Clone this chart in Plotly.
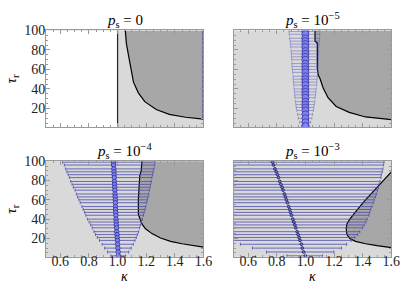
import plotly.graph_objects as go

# ---------------- data ----------------
KAPPA_RANGE = [0.5, 1.6]
TAU_RANGE = [1, 100]
x_tickvals = [0.6, 0.8, 1.0, 1.2, 1.4, 1.6]
x_ticktext = ["0.6", "0.8", "1.0", "1.2", "1.4", "1.6"]
y_tickvals = [20, 40, 60, 80, 100]
y_ticktext = ["20", "40", "60", "80", "100"]
titles = ["<i>p</i><sub>s</sub> = 0", "<i>p</i><sub>s</sub> = 10<sup>−5</sup>",
          "<i>p</i><sub>s</sub> = 10<sup>−4</sup>", "<i>p</i><sub>s</sub> = 10<sup>−3</sup>"]

tau = [99, 96, 92, 89, 86, 83, 79, 76, 73, 70, 66, 63, 60, 57, 53, 50, 47, 44, 40, 37,
       34, 31, 27, 24, 21, 18, 14, 10, 6, 2]

# p_s = 1e-5
p2_center = [0.999, 1.000, 0.999, 1.000, 1.000, 0.999, 1.000, 1.000, 0.999, 1.000,
             1.000, 0.999, 1.000, 1.000, 1.000, 0.999, 1.000, 1.000, 1.000, 0.999,
             1.000, 1.000, 1.000, 0.999, 1.000, 1.000, 1.000, 1.000, 1.000, 1.000]
p2_left = [0.885, 0.887, 0.889, 0.893, 0.895, 0.898, 0.900, 0.902, 0.903, 0.904,
           0.905, 0.907, 0.909, 0.911, 0.914, 0.915, 0.917, 0.919, 0.921, 0.923,
           0.925, 0.927, 0.930, 0.933, 0.936, 0.940, 0.945, 0.951, 0.960, 0.972]
p2_right = [1.101, 1.100, 1.099, 1.097, 1.096, 1.094, 1.093, 1.092, 1.091, 1.090,
            1.090, 1.089, 1.088, 1.086, 1.084, 1.082, 1.080, 1.078, 1.075, 1.073,
            1.071, 1.068, 1.065, 1.062, 1.058, 1.055, 1.050, 1.045, 1.036, 1.028]

# p_s = 1e-4
p3_center = [0.971, 0.972, 0.974, 0.975, 0.976, 0.977, 0.978, 0.979, 0.980, 0.981,
             0.982, 0.983, 0.984, 0.985, 0.985, 0.986, 0.987, 0.988, 0.989, 0.990,
             0.991, 0.993, 0.994, 0.996, 0.997, 0.999, 1.000, 1.002, 1.004, 1.006]
p3_left = [0.616, 0.628, 0.637, 0.646, 0.655, 0.664, 0.673, 0.682, 0.691, 0.703,
           0.712, 0.721, 0.730, 0.739, 0.751, 0.760, 0.769, 0.778, 0.789, 0.801,
           0.812, 0.823, 0.835, 0.846, 0.858, 0.874, 0.892, 0.910, 0.930, 0.953]
p3_right = [1.261, 1.259, 1.254, 1.249, 1.245, 1.240, 1.236, 1.231, 1.227, 1.222,
            1.218, 1.213, 1.208, 1.204, 1.197, 1.192, 1.186, 1.181, 1.174, 1.167,
            1.161, 1.154, 1.147, 1.140, 1.131, 1.122, 1.110, 1.095, 1.078, 1.056]

# p_s = 1e-3
p4_center = [0.771, 0.778, 0.787, 0.796, 0.805, 0.812, 0.821, 0.828, 0.837, 0.844,
             0.853, 0.860, 0.867, 0.874, 0.883, 0.890, 0.896, 0.903, 0.912, 0.919,
             0.926, 0.933, 0.942, 0.949, 0.956, 0.962, 0.972, 0.978, 0.987, 0.999]
p4_left = [-0.02, 0.00, 0.03, 0.05, 0.07, 0.09, 0.11, 0.13, 0.15, 0.17,
           0.19, 0.21, 0.23, 0.25, 0.27, 0.29, 0.31, 0.33, 0.35, 0.37,
           0.39, 0.41, 0.43, 0.45, 0.47, 0.48, 0.546, 0.630, 0.728, 0.871]
p4_right = [1.548, 1.546, 1.541, 1.537, 1.530, 1.528, 1.521, 1.514, 1.510, 1.503,
            1.496, 1.489, 1.480, 1.474, 1.465, 1.456, 1.449, 1.443, 1.431, 1.422,
            1.411, 1.400, 1.380, 1.365, 1.345, 1.320, 1.288, 1.252, 1.199, 1.120]

# boundary curves
c1_k = [1.054, 1.061, 1.077, 1.093, 1.111, 1.145, 1.190, 1.270, 1.361, 1.475, 1.600]
c1_t = [100, 87, 74, 61, 47, 36, 27, 19, 14, 11, 9]
c2_k = [1.067, 1.067, 1.083, 1.083, 1.090, 1.101, 1.124, 1.158, 1.215, 1.306, 1.420, 1.600]
c2_t = [100, 89, 87, 61, 54, 51, 41, 31, 22, 16, 11.3, 8.5]
c3_k = [1.170, 1.165, 1.155, 1.150, 1.145, 1.145, 1.155, 1.170, 1.195, 1.240, 1.300,
        1.370, 1.450, 1.530, 1.600]
c3_t = [100, 90, 85, 75, 60, 45, 40, 35, 30, 25, 20.5, 17, 14.5, 12.5, 11]
c4_k = [1.600, 1.530, 1.470, 1.420, 1.380, 1.340, 1.310, 1.290, 1.285, 1.290, 1.310,
        1.350, 1.420, 1.500, 1.600]
c4_t = [89, 78, 68, 60, 53, 46, 40, 35, 30, 24, 20, 17, 14.5, 12.5, 10.5]
p1_threshold = 1.0

# ---------------- style ----------------
LIGHT = "#d9d9d9"
DARK = "#a7a7a7"
FRAME = "#9a9a9a"
FONT = "Liberation Serif"

fig = go.Figure()
axes = [("x", "y"), ("x2", "y2"), ("x3", "y3"), ("x4", "y4")]
curves = [(c1_k, c1_t), (c2_k, c2_t), (c3_k, c3_t), (c4_k, c4_t)]

for i, ((ck, ct), (xa, ya)) in enumerate(zip(curves, axes)):
    if i < 3:
        fx = ck + [KAPPA_RANGE[1]]
        fy = ct + [TAU_RANGE[1]]
    else:
        fx, fy = ck, ct
    fig.add_trace(go.Scatter(x=fx, y=fy, fill="toself", fillcolor=DARK, mode="none",
                             xaxis=xa, yaxis=ya, showlegend=False, hoverinfo="skip"))
    fig.add_trace(go.Scatter(x=ck, y=ct, mode="lines", line=dict(color="black", width=1.2),
                             xaxis=xa, yaxis=ya, showlegend=False, hoverinfo="skip"))

# panel 1: threshold line and right-edge blue line
fig.add_trace(go.Scatter(x=[p1_threshold, p1_threshold], y=TAU_RANGE, mode="lines",
                         line=dict(color="#222", width=1.2), xaxis="x", yaxis="y",
                         showlegend=False))
fig.add_trace(go.Scatter(x=[KAPPA_RANGE[1], KAPPA_RANGE[1]], y=[c1_t[-1], TAU_RANGE[1]],
                         mode="lines", line=dict(color="#2a2a90", width=2),
                         xaxis="x", yaxis="y", showlegend=False))


def err_trace(center, left, right, xa, ya, msize, mfill, mline, ecolor):
    plus = [r - c for r, c in zip(right, center)]
    minus = [c - l for c, l in zip(center, left)]
    return go.Scatter(
        x=center, y=tau, mode="markers", xaxis=xa, yaxis=ya, showlegend=False,
        marker=dict(size=msize, color=mfill, line=dict(color=mline, width=0.8)),
        error_x=dict(type="data", symmetric=False, array=plus, arrayminus=minus,
                     color=ecolor, thickness=1, width=1.5),
    )


fig.add_trace(err_trace(p2_center, p2_left, p2_right, "x2", "y2", 7, "#8080f4", "#3a3a9a",
                        "rgba(80,80,190,0.45)"))
fig.add_trace(err_trace(p3_center, p3_left, p3_right, "x3", "y3", 4.5, "#8080f4", "#2e2e8a",
                        "rgba(75,75,175,0.8)"))
fig.add_trace(err_trace(p4_center, p4_left, p4_right, "x4", "y4", 2.8, "#7070d0", "#1e1e60",
                        "rgba(75,75,175,0.8)"))

xdom = [[47 / 415, 208 / 415], [239 / 415, 400 / 415]]
ydom = [[166 / 289, 265 / 289], [33 / 289, 131 / 289]]

common = dict(showline=True, linecolor=FRAME, linewidth=1, mirror="ticks",
              ticks="inside", ticklen=4, tickcolor=FRAME, tickwidth=1,
              showgrid=False, zeroline=False,
              tickfont=dict(family=FONT, size=14, color="#222"))

layout = dict(width=415, height=289, margin=dict(l=0, r=0, t=0, b=0),
              paper_bgcolor="white", plot_bgcolor=LIGHT, showlegend=False,
              font=dict(family=FONT, size=12, color="black"))
for i in range(4):
    row, col = divmod(i, 2)
    sfx = "" if i == 0 else str(i + 1)
    layout["xaxis" + sfx] = dict(
        common, domain=xdom[col], anchor="y" + sfx, range=KAPPA_RANGE,
        tickvals=x_tickvals, ticktext=x_ticktext, showticklabels=(row == 1),
        ticklabelstandoff=-9,
        minor=dict(ticks="inside", ticklen=2, tickcolor=FRAME, dtick=0.05, tick0=0.5))
    layout["yaxis" + sfx] = dict(
        common, domain=ydom[row], anchor="x" + sfx, range=TAU_RANGE,
        tickvals=y_tickvals, ticktext=y_ticktext, showticklabels=(col == 0),
        ticklabelstandoff=-3,
        minor=dict(ticks="inside", ticklen=2, tickcolor=FRAME, dtick=5, tick0=0))
fig.update_layout(**layout)

# white region in panel 1
fig.add_shape(type="rect", xref="x", yref="y", x0=KAPPA_RANGE[0], x1=p1_threshold,
              y0=TAU_RANGE[0], y1=TAU_RANGE[1], fillcolor="white", line_width=0, layer="below")

ann = []
for i, t in enumerate(titles):
    row, col = divmod(i, 2)
    ann.append(dict(text=t, xref="paper", yref="paper", x=sum(xdom[col]) / 2,
                    y=ydom[row][1], yanchor="bottom", xanchor="center", showarrow=False,
                    font=dict(family=FONT, size=15, color="black"), yshift=-2))
for row in range(2):
    ann.append(dict(text="<i>τ</i><sub>r</sub>", xref="paper", yref="paper", x=12 / 415,
                    y=sum(ydom[row]) / 2, textangle=-90, showarrow=False,
                    xanchor="center", yanchor="middle",
                    font=dict(family=FONT, size=15, color="black")))
for col in range(2):
    ann.append(dict(text="<i>κ</i>", xref="paper", yref="paper", x=sum(xdom[col]) / 2,
                    y=12.5 / 289, showarrow=False, xanchor="center", yanchor="middle",
                    font=dict(family=FONT, size=14, color="black")))
fig.update_layout(annotations=ann)

fig.write_html("out.html", post_script="document.body.style.margin='0';",
               config={"displayModeBar": False})
